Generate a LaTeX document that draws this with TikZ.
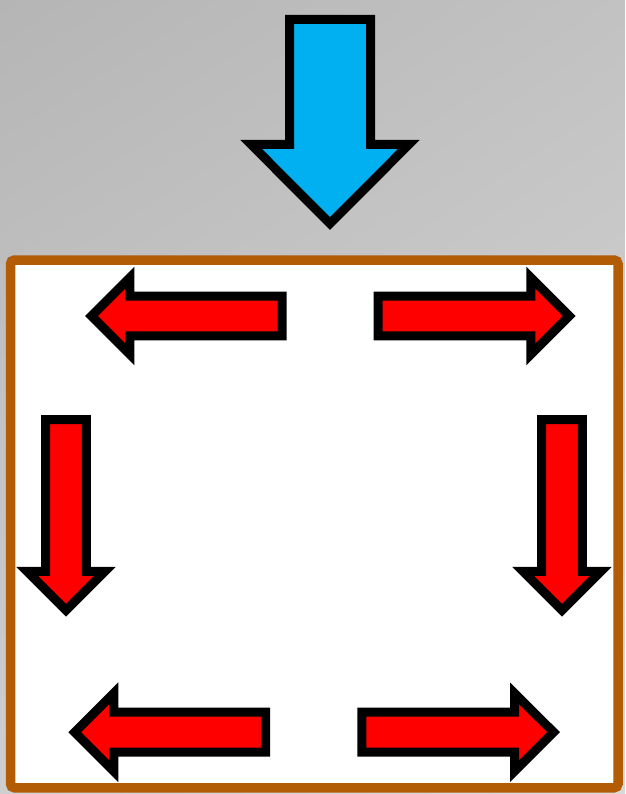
\documentclass[tikz,border=0pt]{standalone}
\usepackage{tikz}
\usetikzlibrary{shadings}
\usepackage{xcolor}
\definecolor{skyfill}{RGB}{0,176,240}
\definecolor{boxbrown}{RGB}{178,92,6}

\begin{document}
\begin{tikzpicture}[x=1pt,y=-1pt,
  bluearrow/.style={draw=black,fill=skyfill,line width=9pt,miter limit=10},
  redarrow/.style={draw=black,fill=red,line width=9pt,miter limit=10}]
\useasboundingbox (0,0) rectangle (625,794);
\shade[upper left=black!29,upper right=black!24,lower left=black!19,lower right=black!15]
  (0,0) rectangle (625,794);
% incoming load from above
\draw[bluearrow] (289.5,19.5) -- (370.5,19.5) -- (370.5,144.3) -- (409,144.3)
  -- (330,223.6) -- (251,144.3) -- (289.5,144.3) -- cycle;
% the box
\draw[draw=boxbrown,fill=white,line width=9.5pt,rounded corners=4pt] (10.5,260) rectangle (618,787.8);
% top row
\draw[redarrow] (282,296.2) -- (129.9,296.2) -- (129.9,277.5) -- (91.4,316)
  -- (129.9,354.5) -- (129.9,335.8) -- (282,335.8) -- cycle;
\draw[redarrow] (378,296.2) -- (530.8,296.2) -- (530.8,277.5) -- (569.3,316)
  -- (530.8,354.5) -- (530.8,335.8) -- (378,335.8) -- cycle;
% sides
\draw[redarrow] (45.7,419.7) -- (86.3,419.7) -- (86.3,571.3) -- (105,571.3)
  -- (66,610.3) -- (27,571.3) -- (45.7,571.3) -- cycle;
\draw[redarrow] (541.7,419.7) -- (582.3,419.7) -- (582.3,571.3) -- (601,571.3)
  -- (562,610.3) -- (523,571.3) -- (541.7,571.3) -- cycle;
% bottom row
\draw[redarrow] (265.5,712.2) -- (113.8,712.2) -- (113.8,693.2) -- (74.7,732.2)
  -- (113.8,771.2) -- (113.8,752.2) -- (265.5,752.2) -- cycle;
\draw[redarrow] (361.8,712.2) -- (514.5,712.2) -- (514.5,693.2) -- (553.6,732.2)
  -- (514.5,771.2) -- (514.5,752.2) -- (361.8,752.2) -- cycle;
\end{tikzpicture}
\end{document}
